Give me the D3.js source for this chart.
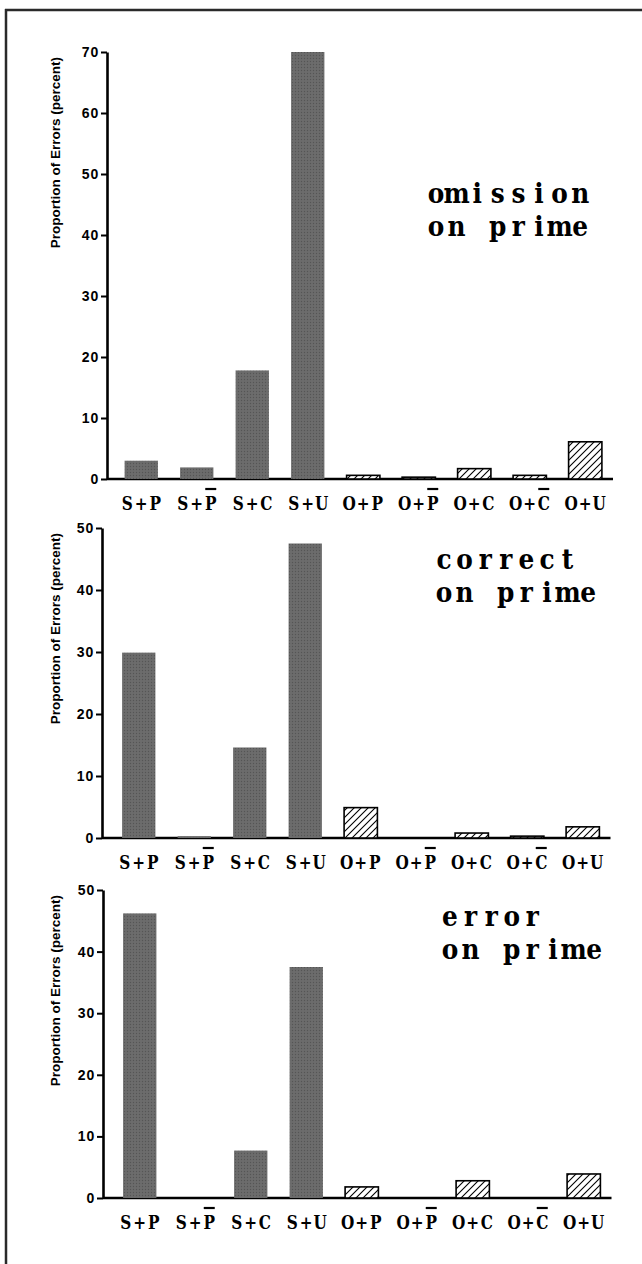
<!DOCTYPE html>
<html>
<head>
<meta charset="utf-8">
<script src="https://cdn.jsdelivr.net/npm/d3@7"></script>
<style>
  html, body { margin: 0; padding: 0; background: #fff; }
  svg { display: block; }
</style>
</head>
<body>
<script>
// categories: combining macron marks the negated (overbar) conditions
var categories = ['S+P', 'S+P\u0304', 'S+C', 'S+U', 'O+P', 'O+P\u0304', 'O+C', 'O+C\u0304', 'O+U'];
var groups = ['S', 'S', 'S', 'S', 'O', 'O', 'O', 'O', 'O'];
var omissionValues = [3.0, 1.9, 17.8, 70.0, 0.6, 0.3, 1.7, 0.6, 6.1];
var correctValues = [29.9, 0.3, 14.6, 47.5, 4.9, 0, 0.8, 0.3, 1.8];
var errorValues = [46.2, 0, 7.7, 37.5, 1.8, 0, 2.8, 0, 3.9];
var omissionTicks = [0, 10, 20, 30, 40, 50, 60, 70];
var shortTicks = [0, 10, 20, 30, 40, 50];
var panelTitles = [['omission', 'on prime'], ['correct', 'on prime'], ['error', 'on prime']];
var yTitle = 'Proportion of Errors (percent)';

var W = 642, H = 1264;
var SERIF = '"DejaVu Serif", "Liberation Serif", serif';
var SANS = '"Liberation Sans", Arial, sans-serif';

var svg = d3.select('body').append('svg').attr('width', W).attr('height', H);

var defs = svg.append('defs');
var st = defs.append('pattern').attr('id', 'stipple').attr('patternUnits', 'userSpaceOnUse')
  .attr('width', 3).attr('height', 3);
st.append('rect').attr('width', 3).attr('height', 3).attr('fill', '#6c6c6c');
st.append('circle').attr('cx', 1.5).attr('cy', 1.5).attr('r', 0.7).attr('fill', '#555');

var hp = defs.append('pattern').attr('id', 'hatch').attr('patternUnits', 'userSpaceOnUse')
  .attr('width', 7).attr('height', 7);
hp.append('rect').attr('width', 7).attr('height', 7).attr('fill', '#fff');
hp.append('path').attr('d', 'M-1,1 l2,-2 M0,7 l7,-7 M6,8 l2,-2')
  .attr('stroke', '#000').attr('stroke-width', 1.1);

// typewriter-like text: one glyph per fixed-pitch cell
function monoText(parent, str, cx0, y, pitch, size, sx) {
  var xs = str.split('').map(function (ch, i) { return ((cx0 + i * pitch) / sx).toFixed(2); });
  return parent.append('text')
    .attr('transform', 'scale(' + sx + ',1)')
    .attr('x', xs.join(' ')).attr('y', y)
    .attr('text-anchor', 'middle')
    .style('font-family', SERIF).style('font-weight', 'bold').style('font-size', size + 'px')
    .text(str);
}

// frame (top + left rule)
svg.append('line').attr('x1', 5).attr('x2', W).attr('y1', 10).attr('y2', 10)
  .attr('stroke', '#2a2a2a').attr('stroke-width', 2.5);
svg.append('line').attr('x1', 6).attr('x2', 6).attr('y1', 9).attr('y2', H)
  .attr('stroke', '#2a2a2a').attr('stroke-width', 2.5);

var panels = [
  { values: omissionValues, ticks: omissionTicks, title: panelTitles[0], y0: 479, yTop: 52, ax: 107, bx: 113.5, tx: 436, ty: 203 },
  { values: correctValues, ticks: shortTicks, title: panelTitles[1], y0: 838, yTop: 528, ax: 102, bx: 111, tx: 444, ty: 569 },
  { values: errorValues, ticks: shortTicks, title: panelTitles[2], y0: 1198, yTop: 890, ax: 103, bx: 112, tx: 450, ty: 926 }
];

panels.forEach(function (p) {
  var g = svg.append('g');
  var x = d3.scaleBand().domain(categories).range([p.bx, p.bx + 499.5])
    .paddingInner(0.4).paddingOuter(0.2);
  var y = d3.scaleLinear().domain([0, d3.max(p.ticks)]).range([p.y0, p.yTop]);

  var rows = categories.map(function (c, i) { return { c: c, v: p.values[i], grp: groups[i] }; })
    .filter(function (d) { return d.v > 0; });

  // baseline
  g.append('line').attr('x1', p.ax).attr('x2', x.range()[1]).attr('y1', p.y0).attr('y2', p.y0)
    .attr('stroke', '#000').attr('stroke-width', 2.6);

  // bars
  g.selectAll('rect.bar').data(rows).enter().append('rect')
    .attr('class', 'bar')
    .attr('x', function (d) { return x(d.c); })
    .attr('width', x.bandwidth())
    .attr('y', function (d) { return y(d.v); })
    .attr('height', function (d) { return p.y0 - y(d.v); })
    .attr('fill', function (d) { return d.grp === 'S' ? 'url(#stipple)' : 'url(#hatch)'; })
    .attr('stroke', function (d) { return d.grp === 'S' ? 'none' : '#000'; })
    .attr('stroke-width', 1.6);

  // y axis
  var ya = g.append('g').attr('transform', 'translate(' + p.ax + ',0)')
    .call(d3.axisLeft(y).tickValues(p.ticks).tickSize(6).tickSizeOuter(0).tickPadding(2));
  ya.select('.domain').attr('stroke', '#000').attr('stroke-width', 2.6);
  ya.selectAll('.tick line').attr('stroke', '#000').attr('stroke-width', 2);
  ya.selectAll('.tick text').attr('fill', '#000')
    .style('font-family', SANS)
    .style('font-weight', 'bold').style('font-size', '14px').style('letter-spacing', '0.8px');

  // y title
  g.append('text')
    .attr('transform', 'translate(60,' + (p.yTop + 5) + ') rotate(-90)')
    .attr('text-anchor', 'end')
    .style('font-family', SANS)
    .style('font-weight', 'bold').style('font-size', '13.5px')
    .text(yTitle);

  // x labels with overbars
  categories.forEach(function (c) {
    var neg = c.indexOf('\u0304') >= 0;
    var label = c.replace('\u0304', '');
    var cx = x(c) + x.bandwidth() / 2;
    monoText(g, label, cx - 14, p.y0 + 31, 14, 18, 0.85);
    if (neg) {
      g.append('line')
        .attr('x1', cx + 14 - 5.5).attr('x2', cx + 14 + 5.5)
        .attr('y1', p.y0 + 10).attr('y2', p.y0 + 10)
        .attr('stroke', '#000').attr('stroke-width', 2.2);
    }
  });

  // panel annotation
  p.title.forEach(function (line, i) {
    monoText(g, line, p.tx, p.ty + i * 33, 20.6, 27, 0.92);
  });
});
</script>
</body>
</html>
